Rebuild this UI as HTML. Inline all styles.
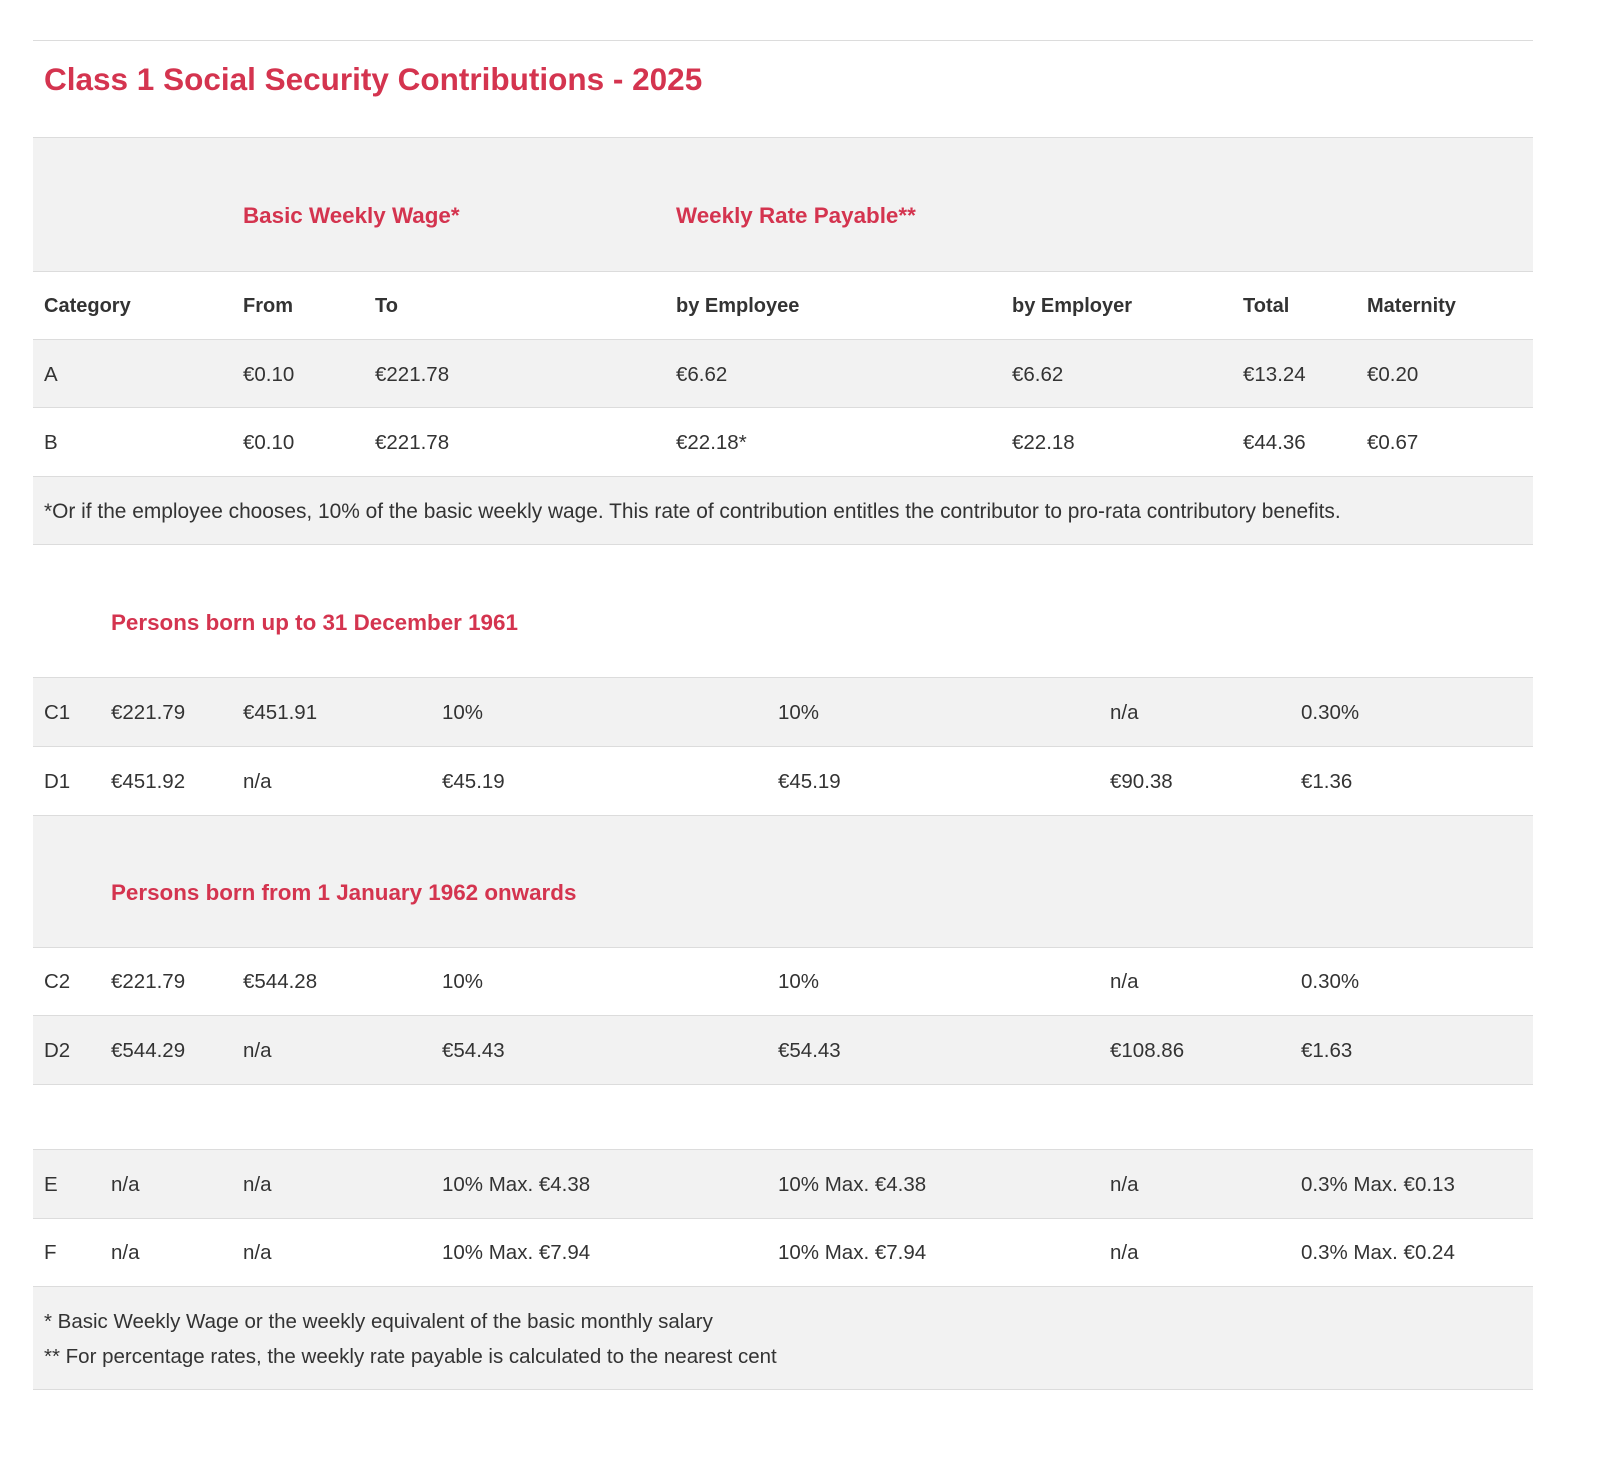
<!DOCTYPE html>
<html><head><meta charset="utf-8"><style>
body{margin:0;width:1600px;height:1465px;background:#fff;font-family:"Liberation Sans",Arial,sans-serif;color:#333;position:relative;overflow:hidden}
.bg{position:absolute;left:33px;width:1500px;background:#f2f2f2}
.ln{position:absolute;left:33px;width:1500px;height:1px;background:#dcdcdc}
.t{position:absolute;font-size:20.5px;line-height:24px;white-space:nowrap;transform:translateY(-12px)}
.b{font-weight:bold;font-size:20px}
.r{color:#d4344f;font-weight:bold;font-size:22.4px}
</style></head><body>
<div class="ln" style="top:40px"></div>
<div class="t r" style="left:44px;top:79px;font-size:31.5px;line-height:36px;transform:translateY(-18px)">Class 1 Social Security Contributions - 2025</div>

<div class="bg" style="top:137px;height:134px"></div>
<div class="bg" style="top:339px;height:68px"></div>
<div class="bg" style="top:476px;height:68px"></div>
<div class="bg" style="top:677px;height:69px"></div>
<div class="bg" style="top:815px;height:132px"></div>
<div class="bg" style="top:1015px;height:69px"></div>
<div class="bg" style="top:1149px;height:69px"></div>
<div class="bg" style="top:1286px;height:103px"></div>

<div class="ln" style="top:137px"></div>
<div class="ln" style="top:271px"></div>
<div class="ln" style="top:339px"></div>
<div class="ln" style="top:407px"></div>
<div class="ln" style="top:476px"></div>
<div class="ln" style="top:544px"></div>
<div class="ln" style="top:677px"></div>
<div class="ln" style="top:746px"></div>
<div class="ln" style="top:815px"></div>
<div class="ln" style="top:947px"></div>
<div class="ln" style="top:1015px"></div>
<div class="ln" style="top:1084px"></div>
<div class="ln" style="top:1149px"></div>
<div class="ln" style="top:1218px"></div>
<div class="ln" style="top:1286px"></div>
<div class="ln" style="top:1389px"></div>

<div class="t r" style="left:243px;top:216px">Basic Weekly Wage*</div>
<div class="t r" style="left:676px;top:216px">Weekly Rate Payable**</div>

<div class="t b" style="left:44px;top:306px">Category</div>
<div class="t b" style="left:243px;top:306px">From</div>
<div class="t b" style="left:375px;top:306px">To</div>
<div class="t b" style="left:676px;top:306px">by Employee</div>
<div class="t b" style="left:1012px;top:306px">by Employer</div>
<div class="t b" style="left:1243px;top:306px">Total</div>
<div class="t b" style="left:1367px;top:306px">Maternity</div>

<div class="t" style="left:44px;top:375px">A</div>
<div class="t" style="left:243px;top:375px">€0.10</div>
<div class="t" style="left:375px;top:375px">€221.78</div>
<div class="t" style="left:676px;top:375px">€6.62</div>
<div class="t" style="left:1012px;top:375px">€6.62</div>
<div class="t" style="left:1243px;top:375px">€13.24</div>
<div class="t" style="left:1367px;top:375px">€0.20</div>

<div class="t" style="left:44px;top:443px">B</div>
<div class="t" style="left:243px;top:443px">€0.10</div>
<div class="t" style="left:375px;top:443px">€221.78</div>
<div class="t" style="left:676px;top:443px">€22.18*</div>
<div class="t" style="left:1012px;top:443px">€22.18</div>
<div class="t" style="left:1243px;top:443px">€44.36</div>
<div class="t" style="left:1367px;top:443px">€0.67</div>

<div class="t" style="left:44px;top:512px;font-size:20.9px">*Or if the employee chooses, 10% of the basic weekly wage. This rate of contribution entitles the contributor to pro-rata contributory benefits.</div>

<div class="t r" style="left:111px;top:623px">Persons born up to 31 December 1961</div>

<div class="t" style="left:44px;top:713px">C1</div>
<div class="t" style="left:111px;top:713px">€221.79</div>
<div class="t" style="left:243px;top:713px">€451.91</div>
<div class="t" style="left:442px;top:713px">10%</div>
<div class="t" style="left:778px;top:713px">10%</div>
<div class="t" style="left:1110px;top:713px">n/a</div>
<div class="t" style="left:1301px;top:713px">0.30%</div>

<div class="t" style="left:44px;top:782px">D1</div>
<div class="t" style="left:111px;top:782px">€451.92</div>
<div class="t" style="left:243px;top:782px">n/a</div>
<div class="t" style="left:442px;top:782px">€45.19</div>
<div class="t" style="left:778px;top:782px">€45.19</div>
<div class="t" style="left:1110px;top:782px">€90.38</div>
<div class="t" style="left:1301px;top:782px">€1.36</div>

<div class="t r" style="left:111px;top:893px">Persons born from 1 January 1962 onwards</div>

<div class="t" style="left:44px;top:982px">C2</div>
<div class="t" style="left:111px;top:982px">€221.79</div>
<div class="t" style="left:243px;top:982px">€544.28</div>
<div class="t" style="left:442px;top:982px">10%</div>
<div class="t" style="left:778px;top:982px">10%</div>
<div class="t" style="left:1110px;top:982px">n/a</div>
<div class="t" style="left:1301px;top:982px">0.30%</div>

<div class="t" style="left:44px;top:1051px">D2</div>
<div class="t" style="left:111px;top:1051px">€544.29</div>
<div class="t" style="left:243px;top:1051px">n/a</div>
<div class="t" style="left:442px;top:1051px">€54.43</div>
<div class="t" style="left:778px;top:1051px">€54.43</div>
<div class="t" style="left:1110px;top:1051px">€108.86</div>
<div class="t" style="left:1301px;top:1051px">€1.63</div>

<div class="t" style="left:44px;top:1185px">E</div>
<div class="t" style="left:111px;top:1185px">n/a</div>
<div class="t" style="left:243px;top:1185px">n/a</div>
<div class="t" style="left:442px;top:1185px">10% Max. €4.38</div>
<div class="t" style="left:778px;top:1185px">10% Max. €4.38</div>
<div class="t" style="left:1110px;top:1185px">n/a</div>
<div class="t" style="left:1301px;top:1185px">0.3% Max. €0.13</div>

<div class="t" style="left:44px;top:1253px">F</div>
<div class="t" style="left:111px;top:1253px">n/a</div>
<div class="t" style="left:243px;top:1253px">n/a</div>
<div class="t" style="left:442px;top:1253px">10% Max. €7.94</div>
<div class="t" style="left:778px;top:1253px">10% Max. €7.94</div>
<div class="t" style="left:1110px;top:1253px">n/a</div>
<div class="t" style="left:1301px;top:1253px">0.3% Max. €0.24</div>

<div class="t" style="left:44px;top:1322px">* Basic Weekly Wage or the weekly equivalent of the basic monthly salary</div>
<div class="t" style="left:44px;top:1357px">** For percentage rates, the weekly rate payable is calculated to the nearest cent</div>
</body></html>
